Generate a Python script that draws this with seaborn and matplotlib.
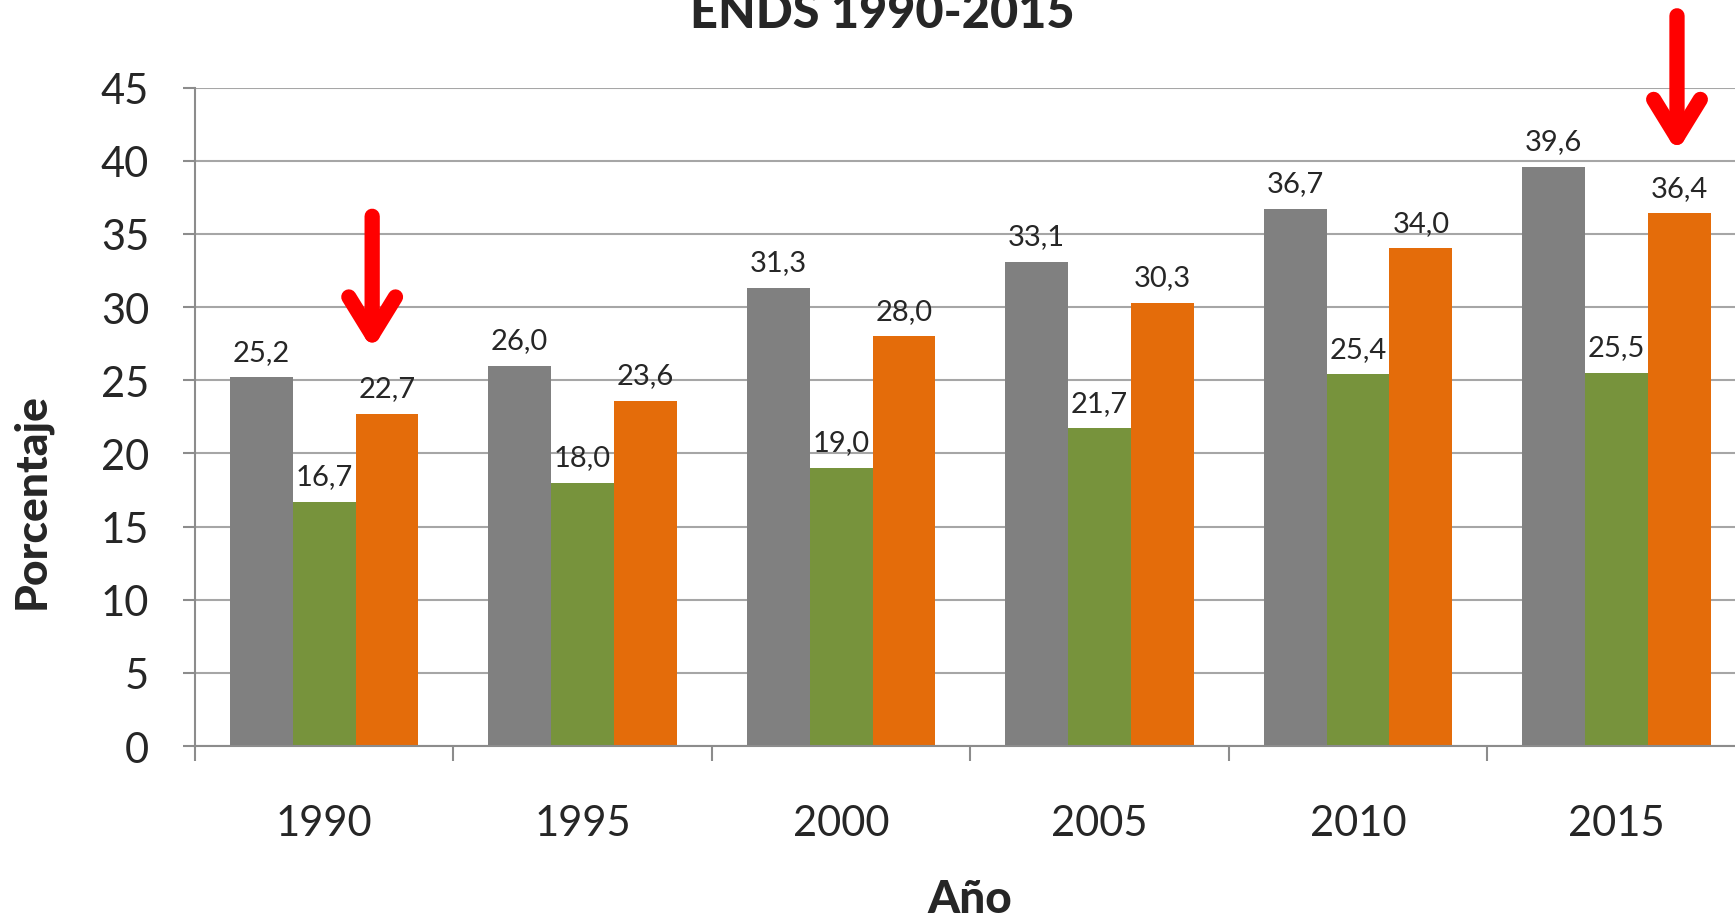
import seaborn as sns
import matplotlib.pyplot as plt
import pandas as pd

# Datos (porcentajes por año)
anios = ["1990", "1995", "2000", "2005", "2010", "2015"]
series = ["Serie 1", "Serie 2", "Serie 3"]
valores_gris = [25.2, 26.0, 31.3, 33.1, 36.7, 39.6]
valores_verde = [16.7, 18.0, 19.0, 21.7, 25.4, 25.5]
valores_naranja = [22.7, 23.6, 28.0, 30.3, 34.0, 36.4]
colores = ["#808080", "#77933C", "#E46C0A"]

todos = [valores_gris, valores_verde, valores_naranja]
df = pd.DataFrame({
    "Año": anios * 3,
    "Serie": [s for s in series for _ in anios],
    "Porcentaje": valores_gris + valores_verde + valores_naranja,
})

sns.set_style("white")
plt.rcParams["font.family"] = ["Lato", "DejaVu Sans"]

gris_eje = "#8C8C8C"

fig = plt.figure(figsize=(17.35, 9.2), dpi=100)
ax = fig.add_axes([0.1123, 0.188, 0.8939, 0.7158])

sns.barplot(data=df, x="Año", y="Porcentaje", hue="Serie", palette=colores,
            width=0.73, gap=0, saturation=1, linewidth=0, legend=False, ax=ax)

# Etiquetas de valor con coma decimal
for cont, vals in zip(ax.containers, todos):
    ax.bar_label(cont, labels=[f"{v:.1f}".replace(".", ",") for v in vals],
                 padding=9, fontsize=21)

ax.set_ylim(0, 45)
ax.set_yticks(range(0, 46, 5))
ax.set_xlim(-0.5, 5.5)
ax.set_xticks([i - 0.5 for i in range(7)], labels=[""] * 7)
ax.set_xticks(range(6), labels=anios, minor=True)
ax.tick_params(axis="x", which="major", bottom=True, length=11, width=1.5,
               color=gris_eje, direction="out")
ax.tick_params(axis="x", which="minor", bottom=True, length=0, pad=42, labelsize=30)
ax.tick_params(axis="y", left=True, length=9, width=1.5, color=gris_eje,
               pad=24, labelsize=30)

ax.yaxis.grid(True, color="#A6A6A6", lw=1.5)
ax.set_axisbelow(True)
for lado in ["top", "right"]:
    ax.spines[lado].set_visible(False)
for lado in ["left", "bottom"]:
    ax.spines[lado].set_color(gris_eje)
    ax.spines[lado].set_linewidth(1.5)

ax.set_xlabel("")
ax.set_ylabel("")
fig.text(31 / 1735, 1 - 501 / 920, "Porcentaje", rotation=90, ha="center",
         va="center", fontsize=32, fontweight="black")
fig.text(970 / 1735, 1 - 913 / 920, "Año", ha="center", va="baseline",
         fontsize=33, fontweight="black")
fig.text(882 / 1735, 1 - 28 / 920, "ENDS 1990-2015", ha="center", va="baseline",
         fontsize=35, fontweight="black")

# Flechas rojas
flecha = dict(arrowstyle="->,head_length=0.65,head_width=0.4", color="red",
              lw=11, mutation_scale=42, shrinkA=0, shrinkB=0)
ax.annotate("", xy=(0.186, 27.1), xytext=(0.186, 36.2), arrowprops=flecha,
            annotation_clip=False)
ax.annotate("", xy=(5.234, 40.6), xytext=(5.234, 49.9), arrowprops=flecha,
            annotation_clip=False)

plt.savefig("out.png", dpi=100)
